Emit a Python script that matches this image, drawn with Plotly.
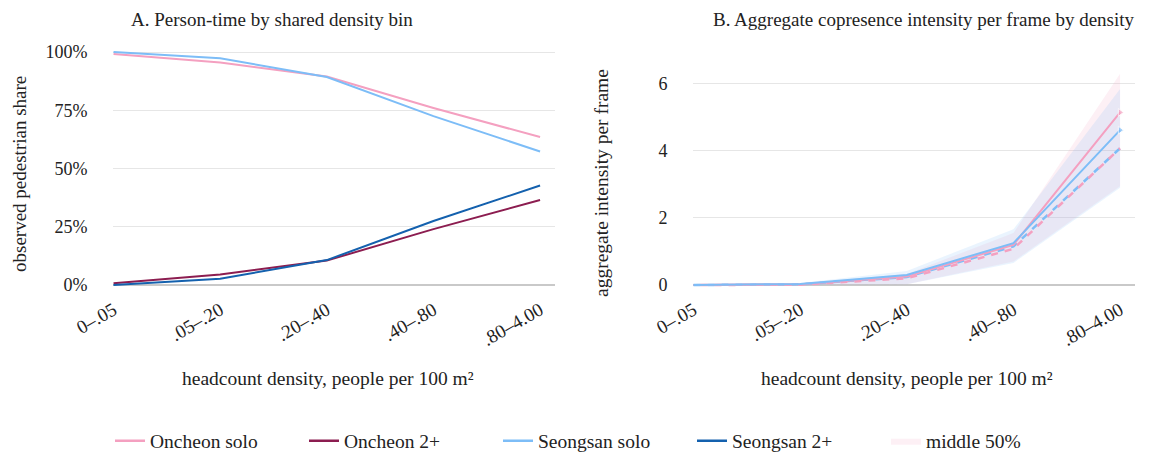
import plotly.graph_objects as go

categories = ["0–.05", ".05–.20", ".20–.40", ".40–.80", ".80–4.00"]

# Panel A: observed pedestrian share (%)
oncheon_solo_share = [99.2, 95.5, 89.5, 76.0, 63.5]
oncheon_2p_share = [0.8, 4.5, 10.5, 24.0, 36.5]
seongsan_solo_share = [100.0, 97.3, 89.3, 72.5, 57.3]
seongsan_2p_share = [0.0, 2.7, 10.7, 27.5, 42.7]

# Panel B: aggregate intensity per frame
oncheon_solo_int = [0.0, 0.02, 0.25, 1.2, 5.15]
seongsan_solo_int = [0.0, 0.03, 0.3, 1.25, 4.62]
oncheon_dash_int = [0.0, 0.01, 0.2, 1.08, 4.08]
seongsan_dash_int = [0.0, 0.02, 0.24, 1.15, 4.08]
oncheon_band_lo = [0.0, 0.0, 0.02, 0.7, 2.95]
oncheon_band_hi = [0.0, 0.04, 0.33, 1.55, 6.3]
seongsan_band_lo = [0.0, 0.0, 0.02, 0.66, 2.9]
seongsan_band_hi = [0.0, 0.06, 0.42, 1.66, 5.85]

legend_names = ["Oncheon solo", "Oncheon 2+", "Seongsan solo", "Seongsan 2+"]

PINK = "#F4A0C0"
MAROON = "#8C1D50"
LBLUE = "#7DBDF7"
DBLUE = "#1461AE"
FONT = "Liberation Serif"
TXT = "#222222"

fig = go.Figure()

# ---- Panel A
for name, ys, col in zip(legend_names,
                         [oncheon_solo_share, oncheon_2p_share, seongsan_solo_share, seongsan_2p_share],
                         [PINK, MAROON, LBLUE, DBLUE]):
    fig.add_trace(go.Scatter(x=categories, y=ys, mode="lines", name=name,
                             line=dict(color=col, width=2), xaxis="x", yaxis="y",
                             showlegend=False))

# ---- Panel B bands
fig.add_trace(go.Scatter(x=categories, y=oncheon_band_lo, mode="lines", line=dict(width=0),
                         xaxis="x2", yaxis="y2", showlegend=False, hoverinfo="skip"))
fig.add_trace(go.Scatter(x=categories, y=oncheon_band_hi, mode="lines", line=dict(width=0),
                         fill="tonexty", fillcolor="rgba(244,160,192,0.16)",
                         xaxis="x2", yaxis="y2", showlegend=False))
fig.add_trace(go.Scatter(x=categories, y=seongsan_band_lo, mode="lines", line=dict(width=0),
                         xaxis="x2", yaxis="y2", showlegend=False, hoverinfo="skip"))
fig.add_trace(go.Scatter(x=categories, y=seongsan_band_hi, mode="lines", line=dict(width=0),
                         fill="tonexty", fillcolor="rgba(125,189,247,0.16)",
                         xaxis="x2", yaxis="y2", showlegend=False))

# dashed lines
fig.add_trace(go.Scatter(x=categories, y=seongsan_dash_int, mode="lines",
                         line=dict(color=LBLUE, width=2.5, dash="7px,7px"),
                         xaxis="x2", yaxis="y2", showlegend=False))
fig.add_trace(go.Scatter(x=categories, y=oncheon_dash_int, mode="lines",
                         line=dict(color=PINK, width=2.5, dash="0px,7px,7px,0px"),
                         xaxis="x2", yaxis="y2", showlegend=False))
# solid lines
end_sizes = [0, 0, 0, 0, 7]
fig.add_trace(go.Scatter(x=categories, y=oncheon_solo_int, mode="lines+markers",
                         line=dict(color=PINK, width=2),
                         marker=dict(size=end_sizes, symbol="triangle-right", color=PINK),
                         xaxis="x2", yaxis="y2", showlegend=False))
fig.add_trace(go.Scatter(x=categories, y=seongsan_solo_int, mode="lines+markers",
                         line=dict(color=LBLUE, width=2),
                         marker=dict(size=end_sizes, symbol="triangle-right", color=LBLUE),
                         xaxis="x2", yaxis="y2", showlegend=False))

# legend-only entries
for name, col in zip(legend_names, [PINK, MAROON, LBLUE, DBLUE]):
    fig.add_trace(go.Scatter(x=[None], y=[None], mode="lines", name=name,
                             line=dict(color=col, width=2.5), xaxis="x", yaxis="y"))
fig.add_trace(go.Scatter(x=[None], y=[None], mode="lines", name="middle 50%",
                         line=dict(width=0), fill="toself",
                         fillcolor="rgba(244,160,192,0.16)", xaxis="x", yaxis="y"))

# page body has an 8px margin; figure sized to fill the window exactly
OFF = 8
FW, FH = 1151 - OFF, 454 - OFF
def px_x(p):
    return (p - OFF) / FW
def px_y(p):
    return (454 - p) / FH

xcommon = dict(type="category", tickangle=-30, showgrid=False, zeroline=False,
               showline=False, ticks="outside", ticklen=1, tickcolor="rgba(0,0,0,0)",
               tickfont=dict(family=FONT, size=19, color=TXT), range=[-0.005, 4.14])
ycommon = dict(showgrid=True, gridcolor="#E6E6E6", gridwidth=1, zeroline=True,
               zerolinecolor="#C9C9C9", zerolinewidth=1.5, showline=False,
               ticks="outside", ticklen=21, tickcolor="rgba(0,0,0,0)",
               tickfont=dict(family=FONT, size=18, color=TXT))

fig.update_layout(
    width=FW, height=FH,
    margin=dict(l=0, r=0, t=0, b=0, autoexpand=False),
    paper_bgcolor="white", plot_bgcolor="white",
    font=dict(family=FONT, color=TXT),
    xaxis=dict(domain=[px_x(113), px_x(555)], anchor="y", **xcommon),
    yaxis=dict(domain=[px_y(289.7), px_y(42.7)], anchor="x", range=[-2, 104],
               tickvals=[0, 25, 50, 75, 100], ticktext=["0%", "25%", "50%", "75%", "100%"],
               **ycommon),
    xaxis2=dict(domain=[px_x(693), px_x(1135)], anchor="y2", **xcommon),
    yaxis2=dict(domain=[px_y(289.7), px_y(63.8)], anchor="x2", range=[-0.14, 6.6],
                tickvals=[0, 2, 4, 6], **ycommon),
    legend=dict(orientation="h", x=px_x(110), xanchor="left", y=px_y(441), yanchor="middle",
                font=dict(family=FONT, size=19.5, color=TXT), entrywidth=149,
                entrywidthmode="pixels", itemwidth=30, traceorder="normal",
                bgcolor="rgba(0,0,0,0)"),
    annotations=[
        dict(text="A. Person-time by shared density bin", x=px_x(272), y=px_y(20),
             xref="paper", yref="paper", showarrow=False, xanchor="center", yanchor="middle",
             font=dict(family=FONT, size=19, color=TXT)),
        dict(text="B. Aggregate copresence intensity per frame by density", x=px_x(924),
             y=px_y(20), xref="paper", yref="paper", showarrow=False, xanchor="center",
             yanchor="middle", font=dict(family=FONT, size=19, color=TXT)),
        dict(text="observed pedestrian share", x=px_x(20), y=px_y(174), xref="paper",
             yref="paper", showarrow=False, textangle=-90, xanchor="center", yanchor="middle",
             font=dict(family=FONT, size=19, color=TXT)),
        dict(text="aggregate intensity per frame", x=px_x(601), y=px_y(183), xref="paper",
             yref="paper", showarrow=False, textangle=-90, xanchor="center", yanchor="middle",
             font=dict(family=FONT, size=19.5, color=TXT)),
        dict(text="headcount density, people per 100 m²", x=px_x(328), y=px_y(378),
             xref="paper", yref="paper", showarrow=False, xanchor="center", yanchor="middle",
             font=dict(family=FONT, size=19.5, color=TXT)),
        dict(text="headcount density, people per 100 m²", x=px_x(907), y=px_y(378),
             xref="paper", yref="paper", showarrow=False, xanchor="center", yanchor="middle",
             font=dict(family=FONT, size=19.5, color=TXT)),
    ],
)

fig.write_html("out.html")
